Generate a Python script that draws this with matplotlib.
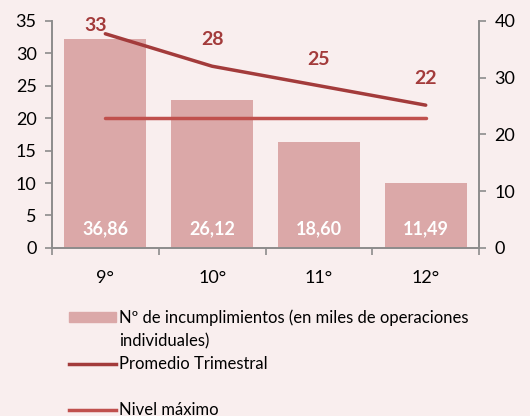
import matplotlib
matplotlib.use("Agg")
import matplotlib.pyplot as plt
from matplotlib.patches import Patch
from matplotlib.lines import Line2D

plt.rcParams['font.family'] = ['Lato', 'DejaVu Sans']

# --- DATA ---
categories = ['9°', '10°', '11°', '12°']
incumplimientos = [36.86, 26.12, 18.60, 11.49]
bar_labels = ['36,86', '26,12', '18,60', '11,49']
promedio = [33, 28, 25, 22]
nivel_maximo = [20, 20, 20, 20]

BG = '#F9EEEE'
BAR_COLOR = '#DBA8A8'
PROM_COLOR = '#A33B3B'
NIVEL_COLOR = '#C0504D'
AXIS_COLOR = '#8C8C8C'

fig = plt.figure(figsize=(5.3, 4.16), dpi=100)
fig.patch.set_facecolor(BG)
ax = fig.add_axes([0.098, 0.404, 0.806, 0.546])
ax.set_facecolor(BG)
ax2 = ax.twinx()

x = list(range(len(categories)))

# bars on the primary axes (right hand scale), lines on the twin (left scale)
ax.bar(x, incumplimientos, width=0.77, color=BAR_COLOR, zorder=1)
for xi, lab in zip(x, bar_labels):
    ax.text(xi, 3.4, lab, ha='center', va='center', color='white',
            fontsize=13, fontweight='bold')
ax.set_ylim(0, 40)
ax.set_yticks([0, 10, 20, 30, 40])
ax.set_xlim(-0.5, len(categories) - 0.5)

ax2.plot(x, promedio, color=PROM_COLOR, lw=2.5, solid_capstyle='round')
ax2.plot(x, nivel_maximo, color=NIVEL_COLOR, lw=2.5, solid_capstyle='round')
for xi, v in zip(x, promedio):
    off = (-7, 6) if xi == 0 else (0, 19)
    ax2.annotate(str(v), (xi, v), xytext=off, textcoords='offset points',
                 ha='center', va='center', color=PROM_COLOR,
                 fontsize=14, fontweight='bold')
ax2.set_ylim(0, 35)
ax2.set_yticks([0, 5, 10, 15, 20, 25, 30, 35])

# swap sides: left scale for the lines, right scale for the bars
ax.yaxis.tick_right()
ax2.yaxis.tick_left()

# x ticks between categories
ax.set_xticks([i - 0.5 for i in range(len(categories) + 1)])
ax.set_xticklabels([])
ax.set_xticks(x, minor=True)
ax.set_xticklabels(categories, minor=True, fontsize=13)
ax.tick_params(axis='x', which='minor', length=0, pad=16)
ax.tick_params(axis='x', which='major', length=5, color=AXIS_COLOR, width=1.2)

for a in (ax, ax2):
    a.spines['top'].set_visible(False)
    for side in ('left', 'right', 'bottom'):
        a.spines[side].set_color(AXIS_COLOR)
        a.spines[side].set_linewidth(1.2)
    a.tick_params(axis='y', labelsize=13, length=5, color=AXIS_COLOR,
                  width=1.2, pad=6)

blank = Line2D([], [], alpha=0)
handles = [
    Patch(color=BAR_COLOR),
    blank,
    Line2D([], [], color=PROM_COLOR, lw=2.5),
    blank,
    Line2D([], [], color=NIVEL_COLOR, lw=2.5),
]
labels = [
    'Nº de incumplimientos (en miles de operaciones',
    'individuales)',
    'Promedio Trimestral',
    ' ',
    'Nivel máximo',
]
fig.legend(handles, labels, loc='upper left', bbox_to_anchor=(0.118, 0.272),
           frameon=False, fontsize=12, handlelength=2.8, handleheight=0.6,
           handletextpad=0.2, labelspacing=0.42, borderaxespad=0)

fig.savefig('out.png', dpi=100, facecolor=BG)
